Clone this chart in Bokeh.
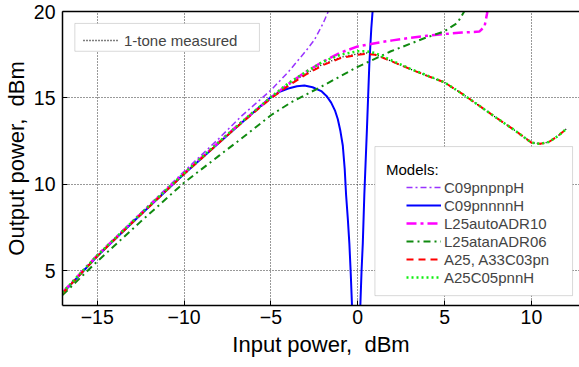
import math
from bokeh.plotting import figure
from bokeh.models import (FixedTicker, LinearAxis, Legend, LegendItem,
                          BoxAnnotation, Label)
from bokeh.embed import file_html
from bokeh.resources import INLINE

NAN = float("nan")

# ---------------- data ----------------
x_ticks = [-15, -10, -5, 0, 5, 10]
y_ticks = [5, 10, 15, 20]

meas_x = [-17, -15, -12.5, -10, -8, -6.7, -5, -4, -3, -2, -1, 0, 0.5, 1, 2, 3,
          4, 5, 6, 7, 8, 9, 10, 10.5, 11, 11.5, 12]
meas_y = [3.7, 5.85, 8.25, 10.6, 12.4, 13.55, 15.0, 15.75, 16.4, 16.95, 17.35,
          17.55, 17.6, 17.52, 17.1, 16.68, 16.28, 15.9, 15.25, 14.55, 13.84,
          13.16, 12.42, 12.35, 12.45, 12.78, 13.2]

a25_x = [-17, -15, -12.5, -10, -8, -6.7, -5, -4, -3, -2, -1, 0, 0.5, 1, 2, 3,
         4, 5, 6, 7, 8, 9, 10, 10.5, 11, 11.5, 12]
a25_y = [3.7, 5.85, 8.25, 10.6, 12.4, 13.55, 14.98, 15.7, 16.35, 16.9, 17.3,
         17.5, 17.55, 17.5, 17.1, 16.68, 16.28, 15.9, 15.25, 14.55, 13.84,
         13.16, 12.42, 12.35, 12.45, 12.78, 13.2]

a25c05_x = [-17, -15, -12.5, -10, -8, -6.7, -5, -4, -3, -2, -1, 0, 0.5, 1, 2,
            3, 4, 5, 6, 7, 8, 9, 10, 10.5, 11, 11.5, 12]
a25c05_y = [3.75, 5.9, 8.3, 10.65, 12.45, 13.6, 15.05, 15.85, 16.5, 17.1,
            17.5, 17.7, 17.7, 17.6, 17.15, 16.7, 16.3, 15.9, 15.25, 14.55,
            13.84, 13.16, 12.42, 12.35, 12.45, 12.78, 13.2]

c09pnp_x = [-17, -15, -12.5, -10, -8, -6.7, -5, -4, -3, -2.5, -2, -1.7]
c09pnp_y = [3.7, 5.9, 8.35, 10.75, 12.65, 13.95, 15.45, 16.5, 17.7, 18.35,
            19.3, 20.0]

c09pnn_x = [-17, -15, -12.5, -10, -8, -6.7, -5, -4.5, -4, -3.5, -3.07, -2.6,
            -2.1, -1.8, -1.53, -1.3, -1.15, -1.0, -0.86, -0.75, -0.67, -0.57,
            -0.48, -0.4, -0.33, -0.3, NAN,
            0.12, 0.15, 0.22, 0.29, 0.38, 0.53, 0.67, 0.78, 0.87]
c09pnn_y = [3.7, 5.85, 8.25, 10.6, 12.4, 13.55, 15.05, 15.35, 15.55, 15.68,
            15.72, 15.62, 15.4, 15.12, 14.73, 14.25, 13.78, 13.1, 12.25, 10.9,
            9.39, 8.0, 6.55, 4.8, 3.0, 2.0, NAN,
            2.0, 3.0, 5.0, 6.55, 9.4, 13.2, 17.0, 19.0, 20.2]

l25auto_x = [-17, -15, -12.5, -10, -8, -6.7, -5, -4, -3, -2, -1, 0, 1, 2, 3,
             4, 5, 6, 7, 7.3, 7.45, 7.5]
l25auto_y = [3.75, 5.9, 8.3, 10.65, 12.45, 13.6, 15.0, 15.8, 16.5, 17.1,
             17.62, 17.98, 18.17, 18.33, 18.47, 18.6, 18.7, 18.78, 18.84,
             19.12, 19.9, 20.3]

l25atan_x = [-17, -15, -12.5, -10, -8, -6.7, -5, -3.83, -1.92, 0, 1.91, 3.83,
             4.98, 5.75, 6.13]
l25atan_y = [3.6, 5.55, 7.85, 10.1, 11.65, 12.65, 14.0, 14.75, 15.75, 16.8,
             17.7, 18.45, 18.85, 19.35, 20.0]

model_names = ["C09pnpnpH", "C09pnnnnH", "L25autoADR10", "L25atanADR06",
               "A25, A33C03pn", "A25C05pnnH"]
measured_name = "1-tone measured"

FONT = "Liberation Sans"

# ---------------- figure ----------------
p = figure(width=579, height=367, x_range=(-17, 12.77), y_range=(3, 20),
           output_backend="svg", toolbar_location=None,
           min_border_left=61, min_border_right=0, min_border_top=11,
           min_border_bottom=62)
p.outline_line_color = None
p.background_fill_color = "white"
p.border_fill_color = "white"

p.xaxis.ticker = FixedTicker(ticks=x_ticks)
p.yaxis.ticker = FixedTicker(ticks=y_ticks)
for ax in (p.xaxis[0], p.yaxis[0]):
    ax.major_tick_in = 5
    ax.major_tick_out = 0
    ax.minor_tick_line_color = None
    ax.axis_line_width = 1.5
    ax.axis_line_color = "black"
    ax.major_tick_line_color = "black"
    ax.major_label_text_font = FONT
    ax.major_label_text_font_size = "19.5px"
    ax.major_label_text_color = "black"
    ax.axis_label_text_font = FONT
    ax.axis_label_text_font_size = "22px"
    ax.axis_label_text_font_style = "normal"
    ax.axis_label_text_color = "black"
p.xaxis.axis_label = "Input power,\u00a0 dBm"
p.yaxis.axis_label = "Output power,\u00a0 dBm"
p.xaxis.major_label_standoff = 4
p.xaxis.axis_label_standoff = 5
p.yaxis.major_label_standoff = 7
p.yaxis.axis_label_standoff = 2

top = LinearAxis(ticker=FixedTicker(ticks=[]), major_tick_in=0,
                 major_tick_out=0, minor_tick_line_color=None,
                 axis_line_width=1.5, axis_line_color="black")
p.add_layout(top, "above")

for g in (p.xgrid[0], p.ygrid[0]):
    g.grid_line_color = "#333333"
    g.grid_line_dash = "1 2"
    g.grid_line_width = 1
p.xgrid.ticker = FixedTicker(ticks=x_ticks)
p.ygrid.ticker = FixedTicker(ticks=y_ticks)

# ---------------- curves ----------------
r_meas = p.line(meas_x, meas_y, line_color="black", line_width=1.3,
                line_dash="1 2")
r_pnp = p.line(c09pnp_x, c09pnp_y, line_color="#9933ff", line_width=1.5,
               line_dash="6 3 2 3")
r_pnn = p.line(c09pnn_x, c09pnn_y, line_color="#0000ff", line_width=2)
r_auto = p.line(l25auto_x, l25auto_y, line_color="#ff00ff", line_width=2.5,
                line_dash="10 4 3 4")
r_atan = p.line(l25atan_x, l25atan_y, line_color="#108a10", line_width=2,
                line_dash="7 4 2 4")
r_a25 = p.line(a25_x, a25_y, line_color="#ff0000", line_width=2,
               line_dash="7 5")
r_c05 = p.line(a25c05_x, a25c05_y, line_color="#11ee11", line_width=2.5,
               line_dash="2 3")

# ---------------- legends ----------------
box1 = BoxAnnotation(left=-16.29, right=-5.66, top=19.31, bottom=17.70,
                     fill_color="white", fill_alpha=1, line_color="#808080",
                     line_width=1)
p.add_layout(box1)
leg1 = Legend(items=[LegendItem(label=measured_name, renderers=[r_meas])],
              location=(21, 256), border_line_color=None,
              background_fill_alpha=0, padding=0, margin=0, spacing=0,
              glyph_width=35, glyph_height=18, label_height=18,
              label_standoff=6, label_text_font=FONT,
              label_text_font_size="15px")
p.add_layout(leg1)

box2 = BoxAnnotation(left=0.99, right=12.37, top=12.19, bottom=3.57,
                     fill_color="white", fill_alpha=1, line_color="#808080",
                     line_width=1)
p.add_layout(box2)
title = Label(x=1.63, y=10.89, text="Models:", text_baseline="middle",
              text_font=FONT, text_font_size="15px", text_color="black")
p.add_layout(title)
renderers = [r_pnp, r_pnn, r_auto, r_atan, r_a25, r_c05]
leg2 = Legend(items=[LegendItem(label=n, renderers=[r])
                     for n, r in zip(model_names, renderers)],
              location=(344, 19), border_line_color=None,
              background_fill_alpha=0, padding=0, margin=0, spacing=0,
              glyph_width=35, glyph_height=18, label_height=18,
              label_standoff=3, label_text_font=FONT,
              label_text_font_size="15px")
p.add_layout(leg2)

open("out.html", "w").write(file_html(p, INLINE))
